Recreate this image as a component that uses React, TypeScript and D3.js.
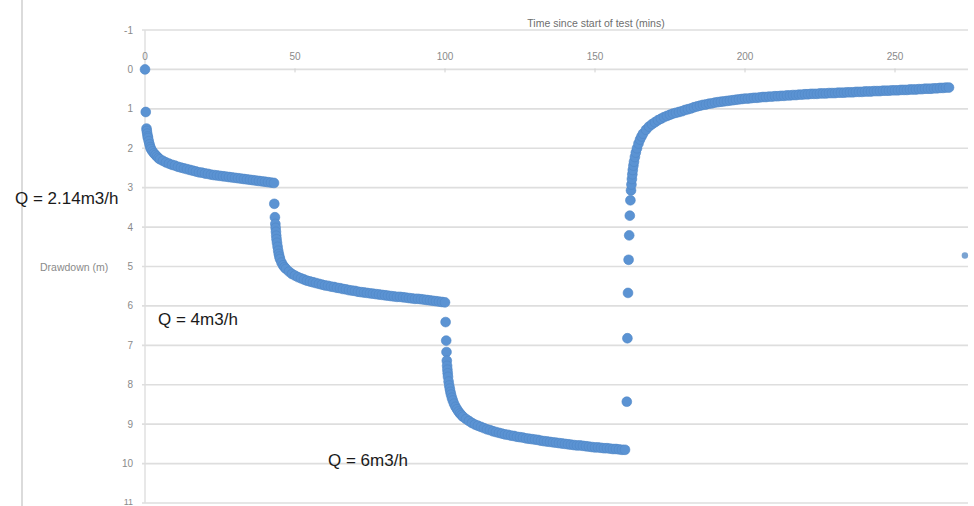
import React from "react";
import * as d3 from "d3";

// Time since start of test (mins), drawdown (m)
const stage1: [number, number][] = [
  [0, 0], [0.25, 1.08], [0.5, 1.5], [0.6, 1.56], [0.75, 1.63], [0.9, 1.7], [1, 1.74], [1.25, 1.82],
  [1.5, 1.9], [1.75, 1.97], [2, 2.02], [2.5, 2.08], [3, 2.13], [3.5, 2.17], [4, 2.21], [4.5, 2.25],
  [5, 2.28], [6, 2.32], [7, 2.36], [8, 2.39], [9, 2.42], [10, 2.44], [11, 2.47], [12, 2.49],
  [13, 2.51], [14, 2.53], [15, 2.55], [16, 2.57], [17, 2.59], [18, 2.61], [19, 2.62], [20, 2.64],
  [21, 2.65], [22, 2.67], [23, 2.68], [24, 2.69], [25, 2.7], [26, 2.71], [27, 2.72], [28, 2.73],
  [29, 2.74], [30, 2.75], [31, 2.76], [32, 2.77], [33, 2.78], [34, 2.79], [35, 2.8], [36, 2.81],
  [37, 2.82], [38, 2.83], [39, 2.84], [40, 2.85], [41, 2.86], [42, 2.87], [43, 2.88],
];

const stage2: [number, number][] = [
  [43.1, 3.41], [43.3, 3.75], [43.45, 3.92], [43.55, 4.02], [43.65, 4.12], [43.75, 4.22],
  [43.85, 4.31], [44, 4.4], [44.2, 4.5], [44.4, 4.6], [44.6, 4.68], [44.8, 4.75], [45, 4.81],
  [45.5, 4.9], [46, 4.97], [46.5, 5.02], [47, 5.06], [48, 5.13], [49, 5.19], [50, 5.23],
  [51, 5.27], [52, 5.3], [53, 5.33], [54, 5.36], [55, 5.38], [56, 5.4], [57, 5.42], [58, 5.44],
  [59, 5.46], [60, 5.48], [61, 5.49], [62, 5.51], [63, 5.52], [64, 5.54], [65, 5.55], [66, 5.57],
  [67, 5.58], [68, 5.6], [69, 5.61], [70, 5.62], [71, 5.64], [72, 5.65], [73, 5.66], [74, 5.67],
  [75, 5.68], [76, 5.69], [77, 5.7], [78, 5.71], [79, 5.72], [80, 5.73], [81, 5.74], [82, 5.75],
  [83, 5.76], [84, 5.77], [85, 5.77], [86, 5.78], [87, 5.79], [88, 5.8], [89, 5.81], [90, 5.82],
  [91, 5.82], [92, 5.83], [93, 5.84], [94, 5.85], [95, 5.86], [96, 5.87], [97, 5.88], [98, 5.89],
  [99, 5.9], [100, 5.91],
];

const stage3: [number, number][] = [
  [100.2, 6.41], [100.4, 6.88], [100.5, 7.17], [100.6, 7.39], [100.7, 7.52], [100.8, 7.62],
  [100.9, 7.71], [101, 7.8], [101.2, 7.92], [101.4, 8.02], [101.6, 8.1], [101.8, 8.18], [102, 8.25],
  [102.3, 8.33], [102.6, 8.4], [103, 8.48], [103.5, 8.56], [104, 8.62], [104.5, 8.68], [105, 8.73],
  [105.5, 8.77], [106, 8.81], [107, 8.87], [108, 8.92], [109, 8.97], [110, 9.01], [111, 9.04],
  [112, 9.07], [113, 9.1], [114, 9.13], [115, 9.15], [116, 9.18], [117, 9.2], [118, 9.22],
  [119, 9.24], [120, 9.26], [121, 9.27], [122, 9.29], [123, 9.3], [124, 9.32], [125, 9.33],
  [126, 9.34], [127, 9.36], [128, 9.37], [129, 9.38], [130, 9.39], [131, 9.4], [132, 9.42],
  [133, 9.43], [134, 9.44], [135, 9.45], [136, 9.46], [137, 9.47], [138, 9.48], [139, 9.49],
  [140, 9.5], [141, 9.51], [142, 9.52], [143, 9.53], [144, 9.54], [145, 9.54], [146, 9.55],
  [147, 9.56], [148, 9.57], [149, 9.58], [150, 9.59], [151, 9.59], [152, 9.6], [153, 9.61],
  [154, 9.61], [155, 9.62], [156, 9.63], [157, 9.63], [158, 9.64], [159, 9.65], [160, 9.65],
];

const recovery: [number, number][] = [
  [160.6, 8.43], [160.8, 6.82], [161, 5.67], [161.2, 4.83], [161.4, 4.21], [161.6, 3.71],
  [161.8, 3.32], [162, 3.07], [162.15, 2.92], [162.3, 2.78], [162.45, 2.66], [162.6, 2.55],
  [162.8, 2.44], [163, 2.34], [163.3, 2.22], [163.6, 2.11], [164, 2.0], [164.5, 1.88], [165, 1.78],
  [165.5, 1.7], [166, 1.63], [167, 1.53], [168, 1.45], [169, 1.39], [170, 1.34], [171, 1.29],
  [172, 1.25], [173, 1.21], [174, 1.18], [175, 1.15], [176, 1.12], [177, 1.1], [178, 1.08],
  [179, 1.06], [180, 1.03], [181, 1.01], [182, 0.99], [183, 0.96], [184, 0.94], [185, 0.92],
  [186, 0.9], [187, 0.89], [188, 0.87], [189, 0.86], [190, 0.84], [191, 0.83], [192, 0.82],
  [193, 0.81], [194, 0.8], [195, 0.79], [196, 0.78], [197, 0.77], [198, 0.76], [199, 0.75],
  [200, 0.74], [201, 0.74], [202, 0.73], [203, 0.72], [204, 0.72], [205, 0.71], [206, 0.7],
  [207, 0.7], [208, 0.69], [209, 0.69], [210, 0.68], [211, 0.68], [212, 0.67], [213, 0.67],
  [214, 0.66], [215, 0.66], [216, 0.65], [217, 0.65], [218, 0.64], [219, 0.64], [220, 0.63],
  [221, 0.63], [222, 0.62], [223, 0.62], [224, 0.62], [225, 0.61], [226, 0.61], [227, 0.61],
  [228, 0.6], [229, 0.6], [230, 0.6], [231, 0.59], [232, 0.59], [233, 0.59], [234, 0.58],
  [235, 0.58], [236, 0.58], [237, 0.57], [238, 0.57], [239, 0.57], [240, 0.56], [241, 0.56],
  [242, 0.56], [243, 0.55], [244, 0.55], [245, 0.55], [246, 0.54], [247, 0.54], [248, 0.54],
  [249, 0.53], [250, 0.53], [251, 0.53], [252, 0.52], [253, 0.52], [254, 0.52], [255, 0.51],
  [256, 0.51], [257, 0.51], [258, 0.5], [259, 0.5], [260, 0.49], [261, 0.49], [262, 0.49],
  [263, 0.48], [264, 0.48], [265, 0.47], [266, 0.47], [267, 0.46], [268, 0.46],
];

const strayPoint: [number, number][] = [[273.3, 4.72]];

const xTicks = [0, 50, 100, 150, 200, 250];
const yTicks = [-1, 0, 1, 2, 3, 4, 5, 6, 7, 8, 9, 10, 11];

const annotations = [
  { text: "Q = 2.14m3/h", x: 15, y: 204 },
  { text: "Q = 4m3/h", x: 158, y: 325 },
  { text: "Q = 6m3/h", x: 328, y: 466 },
];

const W = 974;
const H = 506;

export default function App() {
  const x = d3.scaleLinear().domain([0, 274]).range([145, 967]);
  const y = d3.scaleLinear().domain([-1, 11]).range([30, 503]);
  const all = [...stage1, ...stage2, ...stage3, ...recovery];
  const axisFont = "'Liberation Sans', Arial, sans-serif";
  return (
    <svg
      width={W}
      height={H}
      style={{ position: "absolute", left: 0, top: 0, background: "#fff" }}
    >
      <rect x={0} y={0} width={W} height={H} fill="#fff" />
      <line x1={22} x2={22} y1={0} y2={H} stroke="#cfcfcf" strokeWidth={1.5} />
      {yTicks.map((t) => (
        <line
          key={"g" + t}
          x1={142}
          x2={968}
          y1={y(t)}
          y2={y(t)}
          stroke="#dedede"
          strokeWidth={1.6}
        />
      ))}
      <line x1={x(0)} x2={x(0)} y1={y(-1)} y2={y(11)} stroke="#dedede" strokeWidth={1.4} />
      {xTicks.map((t) => (
        <line key={"xt" + t} x1={x(t)} x2={x(t)} y1={y(0) - 1} y2={y(0) + 3} stroke="#d0d0d0" strokeWidth={1} />
      ))}
      {yTicks.map((t) => (
        <text
          key={"yl" + t}
          x={133}
          y={t === 11 ? y(t) - 1 : y(t)}
          textAnchor="end"
          dominantBaseline="central"
          fontFamily={axisFont}
          fontSize={t === 11 ? 9 : 10}
          fill="#8a8a8a"
        >
          {t}
        </text>
      ))}
      {xTicks.map((t) => (
        <text
          key={"xl" + t}
          x={x(t)}
          y={56}
          textAnchor="middle"
          dominantBaseline="central"
          fontFamily={axisFont}
          fontSize={10}
          fill="#8a8a8a"
        >
          {t}
        </text>
      ))}
      <text
        x={596}
        y={23}
        textAnchor="middle"
        dominantBaseline="central"
        fontFamily={axisFont}
        fontSize={10.5}
        fill="#6e6e6e"
      >
        Time since start of test (mins)
      </text>
      <text
        x={40}
        y={267}
        dominantBaseline="central"
        fontFamily={axisFont}
        fontSize={10.5}
        fill="#8a8a8a"
      >
        Drawdown (m)
      </text>
      <g>
        {all.map((d, i) => (
          <circle
            key={"p" + i}
            cx={x(d[0])}
            cy={y(d[1])}
            r={4.9}
            fill="#5b93d3"
            stroke="#4f86c6"
            strokeWidth={0.6}
          />
        ))}
        {strayPoint.map((d, i) => (
          <circle key={"s" + i} cx={x(d[0])} cy={y(d[1])} r={3.2} fill="#7aa3d2" />
        ))}
      </g>
      {annotations.map((a) => (
        <text
          key={a.text}
          x={a.x}
          y={a.y}
          fontFamily={axisFont}
          fontSize={17}
          fill="#1a1a1a"
        >
          {a.text}
        </text>
      ))}
    </svg>
  );
}
